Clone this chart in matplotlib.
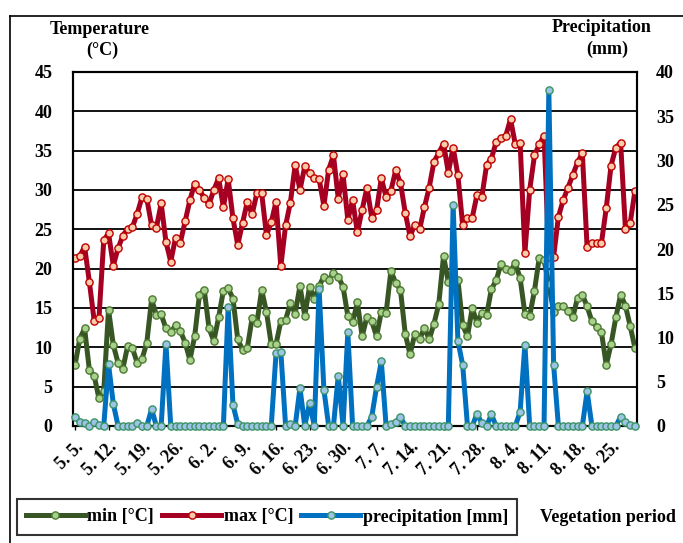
import matplotlib
matplotlib.use("Agg")
import matplotlib.pyplot as plt
from matplotlib.lines import Line2D
import numpy as np

plt.rcParams['font.family'] = ['Liberation Serif', 'DejaVu Serif']
plt.rcParams['font.weight'] = 'bold'

# Daily series, 5 May - 30 Aug
t_min = [7.75, 11.1, 12.4, 7.1, 6.4, 3.5, 4.4, 14.8, 10.3, 8.0,
         7.3, 10.2, 9.9, 8.0, 8.5, 10.6, 16.1, 14.1, 14.2, 12.4,
         11.9, 12.8, 12.1, 10.6, 8.4, 11.4, 16.7, 17.3, 12.4, 10.8,
         13.8, 17.2, 17.5, 16.2, 11.0, 9.7, 9.9, 13.7, 13.1, 17.3,
         14.5, 10.4, 10.4, 13.3, 13.5, 15.6, 14.3, 17.8, 14.0, 17.7,
         16.1, 17.8, 19.0, 18.5, 19.5, 19.0, 17.7, 14.0, 13.2, 15.7,
         11.4, 13.9, 13.3, 11.4, 14.5, 14.4, 19.7, 18.2, 17.3, 11.7,
         9.1, 11.7, 11.0, 12.5, 11.0, 13.0, 15.5, 21.6, 18.3, 18.5,
         18.6, 12.8, 11.4, 15.0, 13.1, 14.4, 14.1, 17.4, 18.5, 20.6,
         20.0, 19.7, 20.7, 18.8, 14.3, 14.0, 17.2, 21.4, 21.1, 18.0,
         14.5, 15.2, 15.3, 14.6, 13.8, 16.3, 16.7, 15.2, 13.3, 12.6,
         11.9, 7.75, 10.4, 13.8, 16.7, 15.3, 12.7, 9.9]

t_max = [21.4, 21.6, 22.8, 18.3, 13.4, 13.7, 23.6, 24.5, 20.4, 22.6,
         24.2, 25.1, 25.3, 27.0, 29.1, 28.9, 25.5, 25.2, 28.3, 23.4,
         20.9, 23.9, 23.3, 26.0, 28.7, 30.8, 30.0, 29.0, 28.2, 30.0,
         31.5, 27.8, 31.4, 26.4, 23.0, 25.8, 28.5, 26.9, 29.6, 29.6,
         24.3, 25.9, 28.5, 20.3, 25.5, 28.4, 33.2, 30.0, 33.0, 32.1,
         31.5, 31.4, 28.0, 32.6, 34.4, 28.9, 32.0, 26.2, 28.7, 24.6,
         27.5, 30.3, 26.5, 27.4, 31.5, 29.1, 29.9, 32.5, 30.9, 27.1,
         24.1, 25.6, 25.0, 27.8, 30.3, 33.6, 34.7, 35.9, 32.2, 35.4,
         31.9, 25.5, 26.5, 26.5, 29.4, 29.1, 33.2, 34.0, 36.1, 36.6,
         36.9, 39.0, 35.8, 36.0, 22.0, 30.0, 34.4, 35.8, 36.9, 21.5,
         21.5, 26.6, 28.7, 30.3, 31.9, 33.5, 34.7, 22.7, 23.3, 23.3,
         23.3, 27.7, 33.1, 35.4, 36.0, 25.1, 25.8, 29.9]

precip = [1.05, 0.4, 0.3, 0.0, 0.4, 0.1, 0.0, 7.0, 2.5, 0.0,
          0.0, 0.0, 0.0, 0.3, 0.0, 0.0, 1.9, 0.0, 0.0, 9.3,
          0.0, 0.0, 0.0, 0.0, 0.0, 0.0, 0.0, 0.0, 0.0, 0.0,
          0.0, 0.0, 13.5, 2.4, 0.2, 0.0, 0.0, 0.0, 0.0, 0.0,
          0.0, 0.0, 8.2, 8.4, 0.0, 0.2, 0.0, 4.3, 0.0, 2.6,
          0.0, 15.5, 4.1, 0.0, 0.0, 5.7, 0.0, 10.6, 0.0, 0.0,
          0.0, 0.0, 1.05, 4.4, 7.3, 0.0, 0.2, 0.4, 1.0, 0.0,
          0.0, 0.0, 0.0, 0.0, 0.0, 0.0, 0.0, 0.0, 0.0, 25.0,
          9.6, 6.9, 0.0, 0.0, 1.4, 0.3, 0.0, 1.3, 0.0, 0.0,
          0.0, 0.0, 0.0, 1.6, 9.2, 0.0, 0.0, 0.0, 0.0, 38.0,
          6.9, 0.0, 0.0, 0.0, 0.0, 0.0, 0.0, 3.9, 0.0, 0.0,
          0.0, 0.0, 0.0, 0.0, 1.05, 0.4, 0.1, 0.0]

tick_labels = ["5. 5.", "5. 12.", "5. 19.", "5. 26.", "6. 2.", "6. 9.",
               "6. 16.", "6. 23.", "6. 30.", "7. 7.", "7. 14.", "7. 21.",
               "7. 28.", "8. 4.", "8. 11.", "8. 18.", "8. 25."]

days = np.arange(len(t_min))

W, H = 683, 543
fig = plt.figure(figsize=(W / 100, H / 100), dpi=100)

L, R, B, T = 73.3, 636.7, 426, 72
ax = fig.add_axes([L / W, 1 - B / H, (R - L) / W, (B - T) / H])
ax2 = ax.twinx()

FS = 13

ax.set_ylim(0, 45)
ax.set_yticks(np.arange(0, 46, 5))
ax.set_xlim(-0.36, len(days) - 1 + 0.36)
ax.yaxis.grid(True, color='black', linewidth=1.3)
ax.set_axisbelow(True)
ax2.set_ylim(0, 40)
ax2.set_yticks(np.arange(0, 41, 5))

green_kw = dict(color='#375623', lw=3.6, marker='o', ms=5.2,
                mfc='#A9D18E', mec='#4E7A32', mew=1.0, solid_joinstyle='round')
red_kw = dict(color='#A50021', lw=3.6, marker='o', ms=5.2,
              mfc='#F8CBAD', mec='#C00000', mew=1.0, solid_joinstyle='round')
blue_kw = dict(color='#0070C0', lw=3.6, marker='o', ms=5.2,
               mfc='#9DC3E6', mec='#3D9466', mew=1.0, solid_joinstyle='round')

ax.plot(days, t_min, zorder=3, **green_kw)
ax.plot(days, t_max, zorder=3, **red_kw)
ax2.plot(days, precip, zorder=3, clip_on=False, **blue_kw)

ax.set_xticks(days[::7])
ax.set_xticklabels(tick_labels, rotation=45, ha='right', va='top',
                   rotation_mode='anchor', fontsize=FS, fontweight='bold')
ax.tick_params(axis='x', length=3, width=1, pad=6)
ax.tick_params(axis='y', length=0, pad=15, labelsize=FS)
ax2.tick_params(axis='y', length=0, pad=14, labelsize=FS)
for lab in ax.get_yticklabels() + ax2.get_yticklabels():
    lab.set_fontweight('bold')

for a in (ax, ax2):
    for s in a.spines.values():
        s.set_linewidth(1.5)
        s.set_color('black')

fig.text(100 / W, 1 - 29 / H, "Temperature", ha='center', va='center',
         fontsize=FS, fontweight='bold')
fig.text(102 / W, 1 - 50 / H, "(°C)", ha='center', va='center',
         fontsize=FS, fontweight='bold')
fig.text(602 / W, 1 - 28 / H, "Precipitation", ha='center', va='center',
         fontsize=FS, fontweight='bold')
fig.text(607 / W, 1 - 49 / H, "(mm)", ha='center', va='center',
         fontsize=FS, fontweight='bold')

handles = [Line2D([], [], **green_kw), Line2D([], [], **red_kw),
           Line2D([], [], **blue_kw)]
leg = fig.legend(handles, ["min [°C]", "max [°C]", "precipitation [mm]"],
                 loc='center left', bbox_to_anchor=(17 / W, 1 - 517 / H),
                 borderaxespad=0.0,
                 ncol=3, frameon=True, fancybox=False, handlelength=3.25,
                 handletextpad=0.15, columnspacing=0.45, borderpad=0.5,
                 prop={'family': 'Liberation Serif', 'weight': 'bold',
                       'size': FS}, markerscale=1.0)
leg.get_frame().set_edgecolor('black')
leg.get_frame().set_linewidth(1.5)

fig.text(540 / W, 1 - 517 / H, "Vegetation period", ha='left', va='center',
         fontsize=FS, fontweight='bold')

# outer chart frame
fig.add_artist(Line2D([9.5 / W, 9.5 / W], [0, 1 - 16 / H], transform=fig.transFigure,
                      color='black', lw=1.2))
fig.add_artist(Line2D([9.5 / W, 1], [1 - 16 / H, 1 - 16 / H], transform=fig.transFigure,
                      color='black', lw=1.2))

fig.savefig("out.png", dpi=100)
